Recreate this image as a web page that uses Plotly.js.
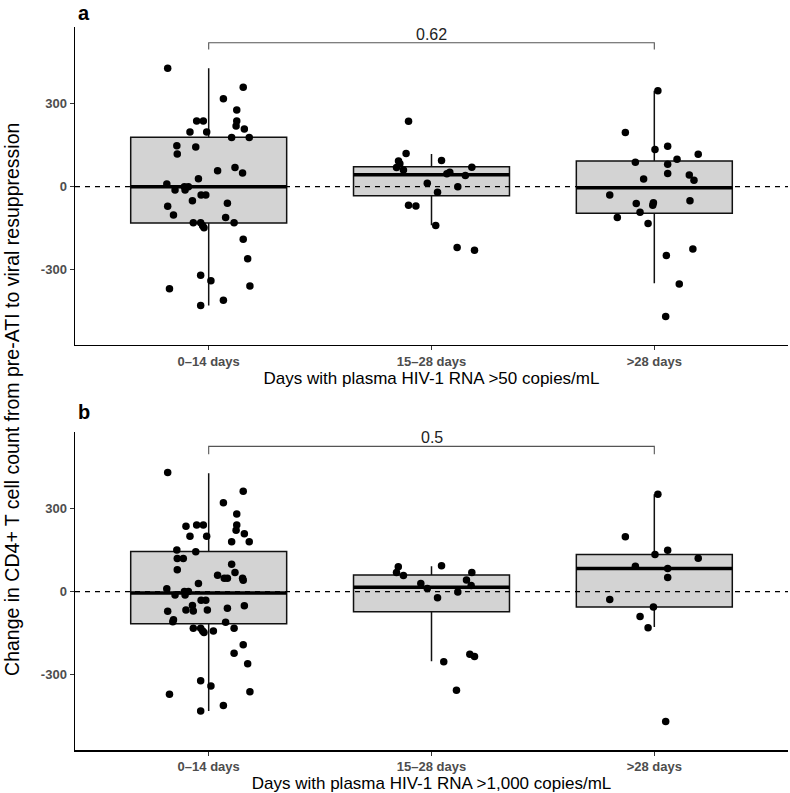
<!DOCTYPE html>
<html>
<head>
<meta charset="utf-8">
<script src="https://cdn.plot.ly/plotly-3.0.1.min.js"></script>
<style>
  html, body { margin: 0; padding: 0; background: #fff; }
  #chart { width: 790px; height: 793px; }
</style>
</head>
<body>
<div id="chart"></div>
<script>
// Groups on the x axis
const categories = ["0\u201314 days", "15\u201328 days", ">28 days"];

// Panel a: viraemia >50 copies/mL — CD4+ change per participant, with horizontal jitter
const a1Values = [428,359,318,277,237,237,237,219,208,198,198,178,178,148,143,118,69,58,49,29,10,0,0,-12,-12,-30,-30,-51,-60,-71,-102,-111,-130,-130,-141,-148,-130,-190,-260,-320,-340,-369,-359,-410,-429];
const a1Jitter = [-0.184,0.155,0.066,0.126,-0.054,-0.024,0.126,0.123,0.160,-0.084,-0.009,0.103,0.182,-0.143,-0.058,-0.141,0.118,0.040,0.152,-0.046,-0.188,-0.091,-0.109,-0.151,-0.106,-0.013,-0.034,-0.073,0.084,-0.184,-0.158,0.076,-0.069,-0.036,-0.027,-0.021,0.114,0.155,0.175,-0.036,0.010,-0.176,0.185,0.066,-0.036];
const a2Values = [236,120,93,83,69,60,95,70,52,47,40,12,0,-20,-67,-70,-140,-220,-230];
const a2Jitter = [-0.103,-0.114,-0.148,-0.142,-0.157,-0.126,0.045,0.181,0.082,0.069,0.152,-0.019,0.118,0.027,-0.103,-0.070,0.019,0.115,0.193];
const a3Values = [347,196,146,134,117,99,88,81,48,42,23,28,-30,-61,-58,-67,-51,-92,-111,-133,-225,-249,-352,-469];
const a3Jitter = [0.016,-0.130,0.060,0.003,0.197,0.102,-0.085,0.060,0.060,0.157,0.178,-0.048,-0.200,-0.081,-0.004,-0.007,0.160,-0.064,-0.166,-0.028,0.173,0.054,0.112,0.051];

// Panel a box statistics
const aQ1 = [-131, -33, -96];
const aMedian = [0, 43, -4];
const aQ3 = [179, 72, 93];
const aLowerWhisker = [-429, -139, -349];
const aUpperWhisker = [428, 118, 347];

// Panel b: viraemia >1,000 copies/mL
const b1Values = [430,362,321,280,236,240,240,240,221,209,200,200,180,180,150,144,119,119,99,79,69,59,48,48,48,41,29,10,0,0,-12,-12,-31,-31,-50,-51,-60,-71,-67,-70,-67,-102,-109,-111,-132,-132,-142,-148,-142,-132,-192,-223,-261,-322,-341,-371,-362,-411,-431];
const b1Jitter = [-0.184,0.155,0.066,0.126,-0.102,-0.054,-0.024,0.126,0.123,0.160,-0.084,-0.009,0.103,0.182,-0.143,-0.058,-0.141,-0.114,0.103,-0.141,0.118,0.040,0.070,0.084,0.152,0.155,-0.046,-0.188,-0.109,-0.091,-0.151,-0.106,-0.013,-0.034,-0.073,0.160,0.084,-0.184,-0.102,-0.069,-0.006,-0.158,-0.161,0.076,-0.069,-0.036,-0.027,-0.021,0.021,0.114,0.155,0.114,0.175,-0.036,0.010,-0.176,0.185,0.066,-0.036];
const b2Values = [90,69,58,93,69,42,22,29,11,-2,-22,-253,-226,-234,-356];
const b2Jitter = [-0.149,-0.157,-0.126,0.045,0.181,0.157,0.178,-0.048,-0.019,0.118,0.027,0.055,0.172,0.193,0.112];
const b3Values = [351,198,149,134,120,91,83,51,-29,-56,-90,-131,-469];
const b3Jitter = [0.016,-0.130,0.060,0.003,0.197,-0.085,0.060,0.060,-0.200,-0.004,-0.064,-0.028,0.051];

// Panel b box statistics
const bQ1 = [-116, -73, -56];
const bMedian = [-5, 16, 83];
const bQ3 = [145, 60, 134];
const bLowerWhisker = [-431, -252, -128];
const bUpperWhisker = [427, 91, 351];

// Comparison brackets (0–14 days vs >28 days) with p-values
const pValueA = "0.62";
const pValueB = "0.5";
const bracketA = { from: 1, to: 3, top: 520, tip: 496 };
const bracketB = { from: 1, to: 3, top: 524, tip: 496 };

const FONT = "Liberation Sans, Arial, Helvetica, sans-serif";
const BOX_HALF = 0.35;
const positions = [1, 2, 3];

function boxTrace(q1, med, q3, lo, hi, xa, ya) {
  return {
    type: "box", x: positions, q1: q1, median: med, q3: q3,
    lowerfence: lo, upperfence: hi, width: 2 * BOX_HALF,
    boxpoints: false, whiskerwidth: 0,
    fillcolor: "#D3D3D3", line: { color: "#111", width: 1.5 },
    xaxis: xa, yaxis: ya, hoverinfo: "skip", showlegend: false
  };
}

function medianTrace(med, xa, ya) {
  const xs = [], ys = [];
  med.forEach((m, i) => {
    xs.push(positions[i] - BOX_HALF, positions[i] + BOX_HALF, null);
    ys.push(m, m, null);
  });
  return { type: "scatter", mode: "lines", x: xs, y: ys,
    line: { color: "#000", width: 3.5 }, xaxis: xa, yaxis: ya,
    hoverinfo: "skip", showlegend: false };
}

function pointsTrace(groups, xa, ya) {
  const xs = [], ys = [];
  groups.forEach(([vals, jit], g) => {
    vals.forEach((v, i) => { xs.push(positions[g] + jit[i]); ys.push(v); });
  });
  return { type: "scatter", mode: "markers", x: xs, y: ys,
    marker: { color: "#000", size: 7.5 }, xaxis: xa, yaxis: ya,
    hoverinfo: "skip", showlegend: false };
}

function bracketTrace(b, xa, ya) {
  return { type: "scatter", mode: "lines",
    x: [b.from, b.from, b.to, b.to], y: [b.tip, b.top, b.top, b.tip],
    line: { color: "#555", width: 1.1 }, xaxis: xa, yaxis: ya,
    hoverinfo: "skip", showlegend: false };
}

const data = [
  boxTrace(aQ1, aMedian, aQ3, aLowerWhisker, aUpperWhisker, "x", "y"),
  medianTrace(aMedian, "x", "y"),
  pointsTrace([[a1Values, a1Jitter], [a2Values, a2Jitter], [a3Values, a3Jitter]], "x", "y"),
  bracketTrace(bracketA, "x", "y"),
  boxTrace(bQ1, bMedian, bQ3, bLowerWhisker, bUpperWhisker, "x2", "y2"),
  medianTrace(bMedian, "x2", "y2"),
  pointsTrace([[b1Values, b1Jitter], [b2Values, b2Jitter], [b3Values, b3Jitter]], "x2", "y2"),
  bracketTrace(bracketB, "x2", "y2")
];

const tickFont = { family: FONT, size: 13, color: "#4D4D4D", weight: "bold" };
const titleFont = { family: FONT, size: 17, color: "#000" };

function xAxis(anchor, title) {
  return {
    anchor: anchor, domain: [0, 1], range: [0.4, 3.6],
    tickvals: positions, ticktext: categories, tickfont: tickFont,
    showline: true, linecolor: "#000", linewidth: 1.5, mirror: false,
    ticks: "outside", ticklen: 4, tickwidth: 1.2, tickcolor: "#333",
    showgrid: false, zeroline: false,
    title: { text: title, font: titleFont, standoff: 4 }
  };
}

function yAxis(anchor, domain) {
  return {
    anchor: anchor, domain: domain, range: [-572, 577],
    tickvals: [-300, 0, 300], ticktext: ["-300", "0", "300"], tickfont: tickFont,
    showline: true, linecolor: "#000", linewidth: 1.5,
    ticks: "outside", ticklen: 4, tickwidth: 1.2, tickcolor: "#333",
    showgrid: false, zeroline: false
  };
}

const layout = {
  width: 790, height: 793,
  margin: { l: 75, r: 2, t: 27, b: 43 },
  paper_bgcolor: "#fff", plot_bgcolor: "#fff",
  showlegend: false,
  font: { family: FONT },
  xaxis: xAxis("y", "Days with plasma HIV-1 RNA >50 copies/mL"),
  yaxis: yAxis("x", [0.5602, 1]),
  xaxis2: xAxis("y2", "Days with plasma HIV-1 RNA >1,000 copies/mL"),
  yaxis2: yAxis("x2", [0, 0.4402]),
  shapes: [
    { type: "line", xref: "x domain", yref: "y", x0: 0, x1: 1, y0: 0, y1: 0,
      line: { color: "#000", width: 1.3, dash: "5px,5px" }, layer: "above" },
    { type: "line", xref: "x2 domain", yref: "y2", x0: 0, x1: 1, y0: 0, y1: 0,
      line: { color: "#000", width: 1.3, dash: "5px,5px" }, layer: "above" }
  ],
  annotations: [
    { text: pValueA, xref: "x", yref: "y", x: (bracketA.from + bracketA.to) / 2, y: bracketA.top,
      yanchor: "bottom", showarrow: false, yshift: -2, font: { family: FONT, size: 16, color: "#222" } },
    { text: pValueB, xref: "x2", yref: "y2", x: (bracketB.from + bracketB.to) / 2, y: bracketB.top,
      yanchor: "bottom", showarrow: false, yshift: -2, font: { family: FONT, size: 16, color: "#222" } },
    { text: "a", xref: "paper", yref: "paper", x: 0.001, y: 1.0373, xanchor: "left", yanchor: "top",
      showarrow: false, font: { family: FONT, size: 20, color: "#000", weight: "bold" } },
    { text: "b", xref: "paper", yref: "paper", x: 0.001, y: 0.4675, xanchor: "left", yanchor: "middle",
      showarrow: false, font: { family: FONT, size: 20, color: "#000", weight: "bold" } },
    { text: "Change in CD4+ T cell count from pre-ATI to viral resuppression",
      xref: "paper", yref: "paper", x: -0.0884, y: 0.4855, xanchor: "center", yanchor: "middle",
      textangle: -90, showarrow: false, font: { family: FONT, size: 19.5, color: "#000" } }
  ]
};

Plotly.newPlot("chart", data, layout, { displayModeBar: false, staticPlot: true });
</script>
</body>
</html>
